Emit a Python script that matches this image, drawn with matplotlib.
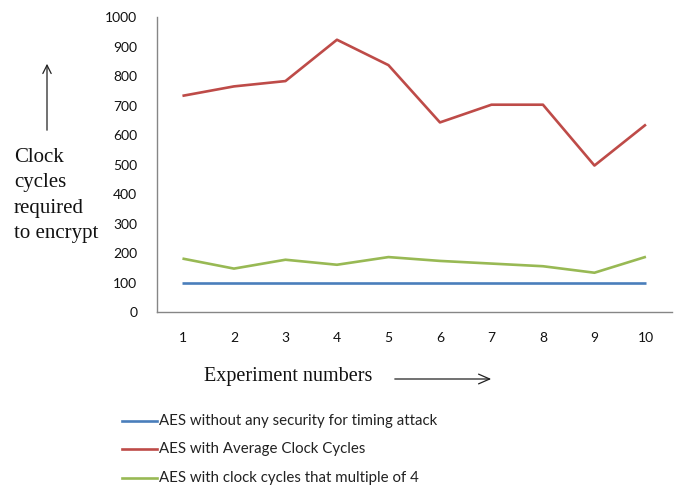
import matplotlib
matplotlib.use("Agg")
import matplotlib.pyplot as plt

# experiment numbers and clock cycles for each variant
experiments = [1, 2, 3, 4, 5, 6, 7, 8, 9, 10]
no_security = [100, 100, 100, 100, 100, 100, 100, 100, 100, 100]
average_cycles = [733, 765, 783, 923, 837, 643, 703, 703, 497, 636]
multiple_of_4 = [182, 148, 178, 161, 187, 174, 165, 156, 134, 188]

labels = ["AES without any security for timing attack",
          "AES with Average Clock Cycles",
          "AES with clock cycles that multiple of 4"]
colors = ["#4A7EBB", "#BE4B48", "#98B954"]

W, H = 678, 487
fig = plt.figure(figsize=(W / 100, H / 100), dpi=100)
ax = fig.add_axes([156.7 / W, 1 - 312.3 / H, 515 / W, 295.3 / H])

series = [no_security, average_cycles, multiple_of_4]
for vals, c in zip(series, colors):
    ax.plot(experiments, vals, color=c, lw=1.9, solid_capstyle="butt")

ax.set_xlim(0.5, 10.5)
ax.set_ylim(0, 1000)
ax.set_yticks(range(0, 1001, 100))
ax.set_xticks(experiments)
for s in ["top", "right"]:
    ax.spines[s].set_visible(False)
for s in ["left", "bottom"]:
    ax.spines[s].set_color("#868686")
    ax.spines[s].set_linewidth(1)
ax.tick_params(length=0, labelsize=10, labelcolor="#111111", pad=14,
               labelfontfamily="Lato")
ax.tick_params(axis="x", pad=14)


def fx(x):
    return x / W


def fy(y):
    return 1 - y / H


# y axis caption with arrow (serif, figure coords)
fig.text(fx(14), fy(148), "Clock\ncycles\nrequired\nto encrypt", family="Liberation Serif",
         fontsize=15, va="top", ha="left", linespacing=1.45, color="#111111")
fig.patches.append(matplotlib.patches.FancyArrowPatch(
    (fx(47), fy(133)), (fx(47), fy(61)), transform=fig.transFigure,
    arrowstyle="->,head_length=6,head_width=3", color="#222222", lw=0.9))

fig.text(fx(204), fy(377), "Experiment numbers", family="Liberation Serif",
         fontsize=14.5, va="center", ha="left", color="#111111")
fig.patches.append(matplotlib.patches.FancyArrowPatch(
    (fx(392), fy(379)), (fx(494), fy(379)), transform=fig.transFigure,
    arrowstyle="->,head_length=8,head_width=3.5", color="#222222", lw=0.9))

# legend
rows = [421, 449, 478]
for lab, c, y in zip(labels, colors, rows):
    fig.lines.append(matplotlib.lines.Line2D([fx(122), fx(157)], [fy(y), fy(y)],
                                             transform=fig.transFigure, color=c, lw=1.9))
    fig.text(fx(159), fy(y), lab, family="Lato", fontsize=10.8, va="center",
             ha="left", color="#222222")

fig.savefig("out.png", dpi=100)
